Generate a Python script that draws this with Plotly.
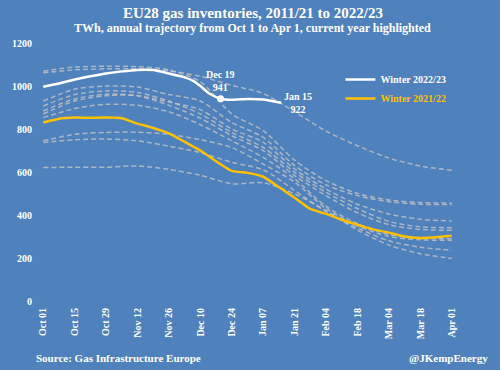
import plotly.graph_objects as go

# ---------------- data ----------------
tick_labels = ["Oct 01", "Oct 15", "Oct 29", "Nov 12", "Nov 26", "Dec 10", "Dec 24",
               "Jan 07", "Jan 21", "Feb 04", "Feb 18", "Mar 04", "Mar 18", "Apr 01"]
tick_days = [0, 14, 28, 42, 56, 70, 84, 98, 112, 126, 140, 154, 168, 182]

# past winters (2011/12 .. 2020/21), values every two weeks (TWh)
hist_days = [0, 14, 28, 42, 56, 70, 84, 98, 112, 126, 140, 154, 168, 182]
hist_a = [1069, 1088, 1092, 1090, 1075, 1020, 870, 792, 655, 560, 500, 470, 458, 455]
hist_b = [1062, 1075, 1080, 1080, 1070, 1045, 1003, 965, 880, 790, 722, 665, 628, 608]
hist_c = [930, 985, 1000, 995, 960, 930, 830, 761, 630, 540, 490, 462, 450, 449]
hist_d = [870, 930, 955, 955, 925, 890, 800, 738, 614, 520, 450, 405, 380, 372]
hist_e = [907, 960, 977, 970, 930, 870, 784, 714, 599, 505, 430, 370, 345, 341]
hist_f = [884, 940, 962, 955, 910, 850, 769, 699, 583, 490, 410, 355, 333, 329]
hist_g = [853, 895, 915, 910, 880, 820, 745, 668, 568, 440, 360, 310, 292, 290]
hist_h = [745, 775, 784, 785, 775, 750, 714, 637, 553, 430, 350, 300, 285, 282]
hist_i = [737, 750, 753, 745, 720, 690, 645, 610, 514, 415, 340, 280, 250, 236]
hist_j = [621, 622, 622, 628, 612, 585, 545, 550, 498, 420, 330, 260, 220, 198]
hist_series = [hist_a, hist_b, hist_c, hist_d, hist_e, hist_f, hist_g, hist_h, hist_i, hist_j]

# winter 2021/22 (weekly)
w2122_days = [0, 7, 14, 21, 28, 35, 42, 49, 56, 63, 70, 77, 84, 91, 98, 105, 112,
              119, 126, 133, 140, 147, 154, 161, 168, 175, 182]
w2122_vals = [830, 848, 853, 852, 853, 850, 825, 805, 780, 740, 700, 650, 605, 596,
              578, 530, 480, 428, 405, 378, 355, 333, 318, 300, 293, 296, 303]

# winter 2022/23 (to Jan 15)
w2223_days = [0, 7, 14, 21, 28, 35, 42, 49, 56, 63, 67, 70, 74, 79, 84, 91, 98, 106]
w2223_vals = [997, 1012, 1030, 1045, 1058, 1068, 1075, 1074, 1058, 1040, 1023, 1000,
              965, 941, 936, 940, 937, 922]

BG = "#4F81BD"
FONT = "Liberation Serif"

fig = go.Figure()

for s in hist_series:
    fig.add_trace(go.Scatter(
        x=hist_days, y=s, mode="lines", showlegend=False, hoverinfo="skip",
        line=dict(color="rgba(195,195,195,0.8)", width=1.5, dash="5px,3px",
                  shape="spline", smoothing=0.8)))

fig.add_trace(go.Scatter(
    x=w2122_days, y=w2122_vals, mode="lines",
    name="<span style='color:#FFC000'>Winter 2021/22</span>",
    line=dict(color="#FFC000", width=2.5, shape="spline", smoothing=0.5)))

fig.add_trace(go.Scatter(
    x=w2223_days, y=w2223_vals, mode="lines",
    name="Winter 2022/23",
    line=dict(color="#FFFFFF", width=2.5, shape="spline", smoothing=0.5)))

dec_idx = w2223_days.index(79)
fig.add_trace(go.Scatter(
    x=[w2223_days[dec_idx]], y=[w2223_vals[dec_idx]], mode="markers",
    showlegend=False, marker=dict(color="white", size=7)))

fig.add_annotation(x=w2223_days[dec_idx], y=w2223_vals[dec_idx],
                   text="Dec 19<br>941", showarrow=False, yanchor="bottom", yshift=4,
                   font=dict(family=FONT, size=10, color="white", weight="bold"))
fig.add_annotation(x=w2223_days[-1], y=w2223_vals[-1],
                   text="Jan 15<br>922", showarrow=False, xshift=17, yshift=0,
                   font=dict(family=FONT, size=10, color="white", weight="bold"))

# titles and credits
fig.add_annotation(xref="paper", yref="paper", x=0.513, y=1.116, yanchor="middle",
                   text="EU28 gas inventories, 2011/21 to 2022/23", showarrow=False,
                   font=dict(family=FONT, size=15, color="white", weight="bold"))
fig.add_annotation(xref="paper", yref="paper", x=0.513, y=1.058, yanchor="middle",
                   text="TWh, annual trajectory from Oct 1 to Apr 1, current year highlighted",
                   showarrow=False,
                   font=dict(family=FONT, size=12, color="white", weight="bold"))
fig.add_annotation(xref="paper", yref="paper", x=-0.017, y=-0.221, xanchor="left",
                   yanchor="middle", text="Source: Gas Infrastructure Europe", showarrow=False,
                   font=dict(family=FONT, size=11, color="white", weight="bold"))
fig.add_annotation(xref="paper", yref="paper", x=1.088, y=-0.221, xanchor="right",
                   yanchor="middle", text="@JKempEnergy", showarrow=False,
                   font=dict(family=FONT, size=11, color="white", weight="bold"))

fig.update_layout(
    width=500, height=370,
    margin=dict(l=35, r=46, t=43, b=69),
    paper_bgcolor=BG, plot_bgcolor=BG,
    showlegend=True,
    legend=dict(x=0.725, y=0.915, xanchor="left", yanchor="top",
                traceorder="reversed", bgcolor="rgba(0,0,0,0)",
                font=dict(family=FONT, size=10, color="white", weight="bold"),
                itemwidth=30, tracegroupgap=0),
    xaxis=dict(range=[-1, 183], tickvals=tick_days, ticktext=tick_labels,
               tickangle=-90, showgrid=False, zeroline=False, showline=False,
               ticks="", ticklabelstandoff=4,
               tickfont=dict(family=FONT, size=10, color="white", weight="bold")),
    yaxis=dict(range=[0, 1200], dtick=200, showgrid=False, zeroline=False,
               showline=False, ticks="", ticklabelstandoff=8,
               tickfont=dict(family=FONT, size=10, color="white", weight="bold")),
)

fig.write_html("out.html", config={"displayModeBar": False},
               post_script="document.body.style.margin='0';")
